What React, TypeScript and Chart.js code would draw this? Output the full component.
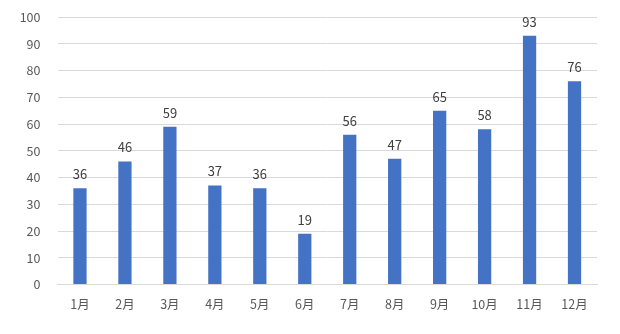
import React, { useEffect, useRef } from "react";
import { Chart, registerables } from "chart.js";

Chart.register(...registerables);

const categories = ["1月", "2月", "3月", "4月", "5月", "6月", "7月", "8月", "9月", "10月", "11月", "12月"];
const values = [36, 46, 59, 37, 36, 19, 56, 47, 65, 58, 93, 76];
const yMin = 0;
const yMax = 100;
const yStep = 10;

const FONT = "'Noto Sans CJK SC', 'Noto Sans', sans-serif";

const labelPlugin = {
  id: "valueLabels",
  afterDatasetsDraw(chart: any) {
    const ctx = chart.ctx;
    const meta = chart.getDatasetMeta(0);
    ctx.save();
    ctx.font = `13px ${FONT}`;
    ctx.fillStyle = "#404040";
    ctx.textAlign = "center";
    ctx.textBaseline = "middle";
    meta.data.forEach((bar: any, i: number) => {
      ctx.fillText(String(values[i]), bar.x, bar.y - 14);
    });
    ctx.restore();
  },
};

export default function App() {
  const ref = useRef<HTMLCanvasElement>(null);
  useEffect(() => {
    document.body.style.margin = "0";
    const chart = new Chart(ref.current!, {
      type: "bar",
      data: {
        labels: categories,
        datasets: [
          {
            data: values,
            backgroundColor: "#4472C4",
            categoryPercentage: 1,
            barPercentage: 0.295,
          },
        ],
      },
      options: {
        animation: false,
        responsive: false,
        maintainAspectRatio: false,
        layout: { padding: { top: 17, right: 23, left: 0, bottom: 0 } },
        plugins: { legend: { display: false }, tooltip: { enabled: false } },
        scales: {
          x: {
            grid: { display: false, drawTicks: false },
            border: { display: true, color: "#d9d9d9" },
            ticks: { color: "#595959", font: { size: 12.5, family: FONT }, padding: 12, maxRotation: 0 },
            afterFit(scale: any) {
              scale.height = 49.5;
              scale.paddingLeft = 0;
              scale.paddingRight = 0;
            },
          },
          y: {
            min: yMin,
            max: yMax,
            grid: { color: "#d9d9d9", drawTicks: false },
            border: { display: false },
            ticks: { stepSize: yStep, color: "#595959", font: { size: 12.5, family: FONT }, padding: 17 },
            afterFit(scale: any) {
              scale.width = 57.5;
              scale.paddingTop = 0;
              scale.paddingBottom = 0;
            },
          },
        },
      },
      plugins: [labelPlugin],
    });
    return () => chart.destroy();
  }, []);
  return (
    <div style={{ width: 620, height: 334 }}>
      <canvas ref={ref} width={620} height={334} style={{ display: "block" }} />
    </div>
  );
}
